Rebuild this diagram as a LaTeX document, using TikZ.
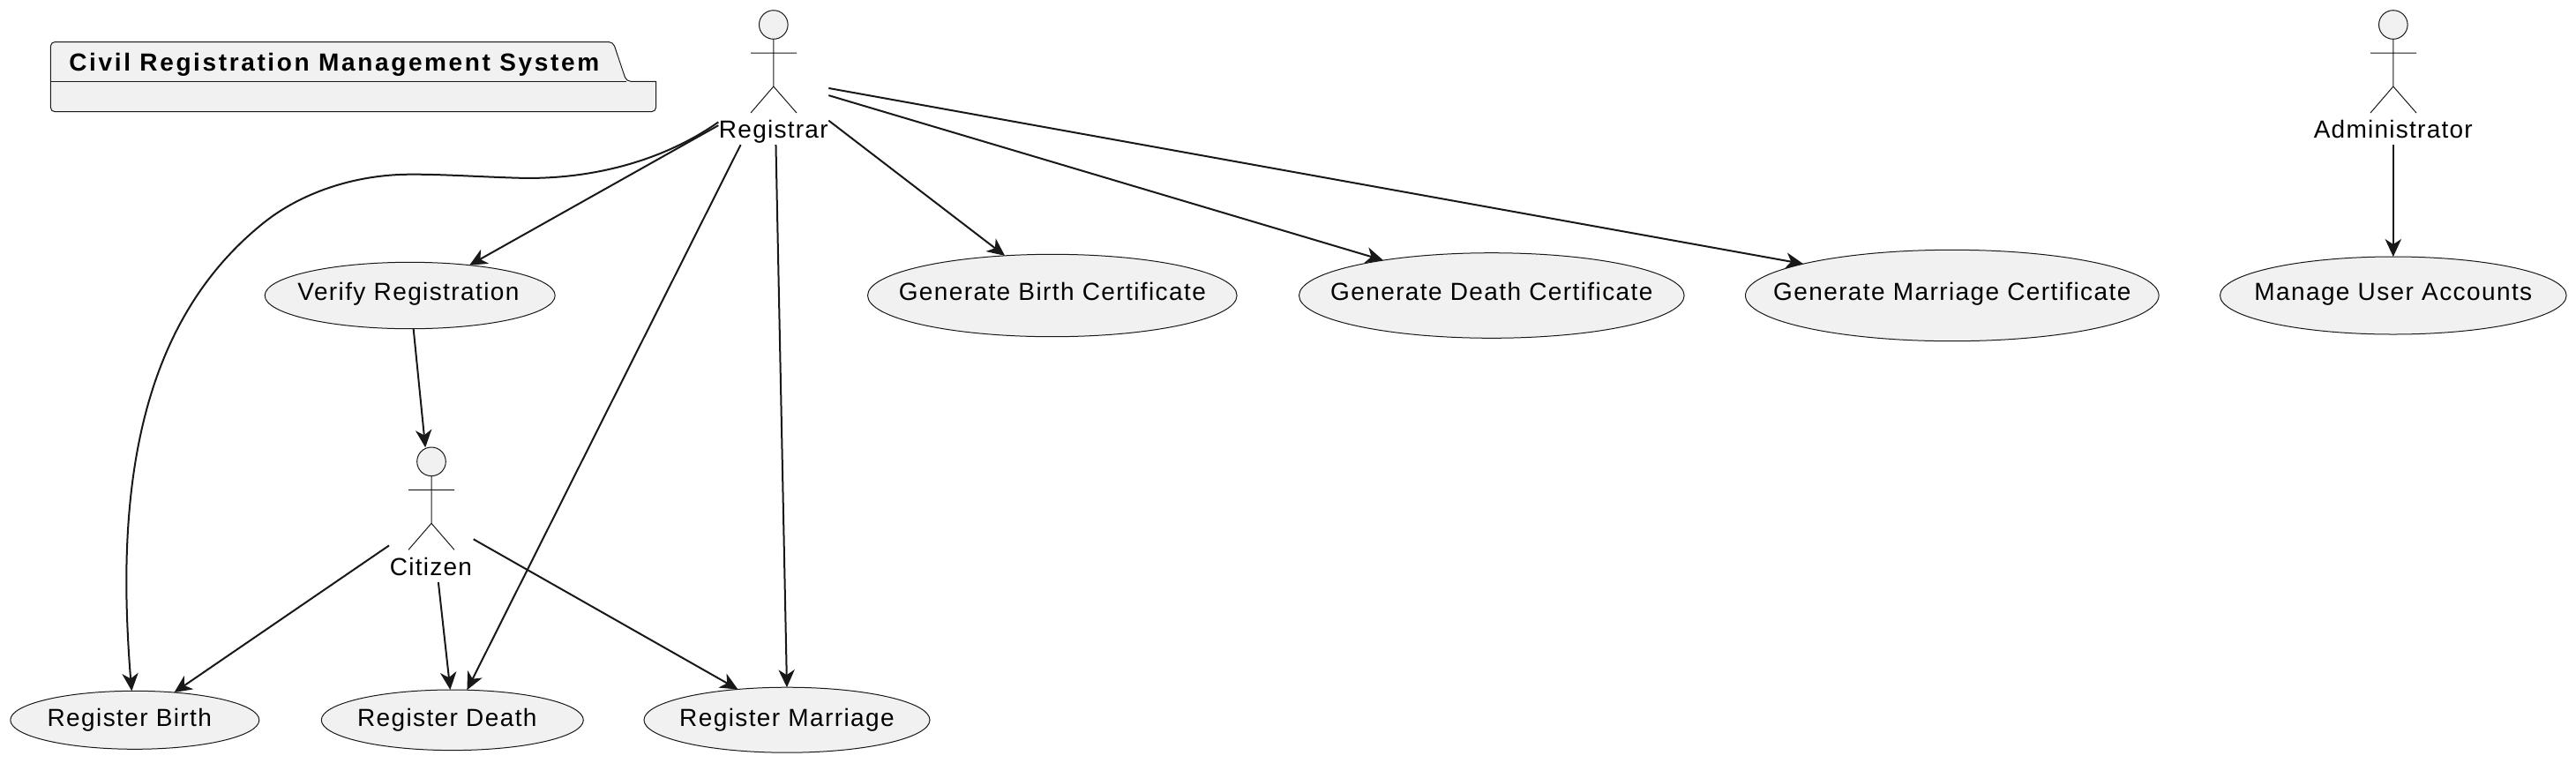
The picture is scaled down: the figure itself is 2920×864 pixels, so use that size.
\documentclass[tikz,border=0pt]{standalone}
\usepackage{fontspec}
\setmainfont[LetterSpace=5,BoldFeatures={LetterSpace=9.4}]{Liberation Sans}
\newfontfamily\actorfont[LetterSpace=4.5]{Liberation Sans}
\usetikzlibrary{arrows.meta,shapes.geometric}

\definecolor{umlink}{HTML}{181818}
\definecolor{umlfill}{HTML}{F1F1F1}

\newcommand{\uctext}[2][0pt]{\makebox[0pt]{\hspace*{#1}#2}}

\tikzset{
    usecase/.style={ellipse, draw=umlink, fill=umlfill, line width=.5pt, inner sep=0pt, outer sep=0pt,
        text=black, font=\fontsize{14}{17}\selectfont, text height=9pt, text depth=3.3pt},
    lowcase/.style={usecase, text height=10.3pt},
    actorbox/.style={rectangle, inner sep=0pt, outer sep=0pt, minimum height=76.3pt},
    actorhead/.style={circle, draw=umlink, fill=umlfill, line width=.5pt, inner sep=0pt, outer sep=0pt, minimum size=16.3pt},
    actorline/.style={draw=umlink, line width=.5pt},
    actorname/.style={anchor=base, inner sep=0pt, font=\actorfont\fontsize{14}{17}\selectfont},
    umlarrow/.style={draw=umlink, line width=1pt, -{Stealth[length=10pt,width=9.2pt,inset=3pt,line width=.6pt]}}
}

\begin{document}
\begin{tikzpicture}[x=.5pt,y=-.5pt]
    \useasboundingbox (0,0) rectangle (2920,864);

    % package
    \draw[draw=umlink, fill=umlfill, line width=.5pt, rounded corners=2.5pt]
        (57.3,110) -- (57.3,47.5) -- (695,47.5) -- (710,92.3) [sharp corners] -- (743.6,92.3)
        [rounded corners=2.5pt] -- (743.6,126.7) -- (57.3,126.7) -- cycle;
    \draw[draw=umlink, line width=.5pt] (57.3,92.3) -- (710,92.3);
    \node[anchor=base west, inner sep=0pt, font=\fontsize{14}{17}\selectfont\bfseries] (pkgtitle) at (78,80) {Civil Registration Management System};

    % actors
    \node[actorhead] (registrarhead) at (876.8,28) {};
    \draw[actorline] (registrarhead.south) -- (876.8,98) (851,60) -- (903,60) (851,128) -- (876.8,98) -- (903,128);
    \node[actorname] (registrarname) at (876.8,156.7) {Registrar};
    \node[actorbox, minimum width=62.5pt] (registrar) at (876.8,87.8) {};

    \node[actorhead] (citizenhead) at (489,523.3) {};
    \draw[actorline] (citizenhead.south) -- (489,593.3) (463,555.3) -- (515,555.3) (463,623.3) -- (489,593.3) -- (515,623.3);
    \node[actorname] (citizenname) at (488.5,652.3) {Citizen};
    \node[actorbox, minimum width=47.85pt] (citizen) at (488.85,583.65) {};

    \node[actorhead] (adminhead) at (2712.8,28) {};
    \draw[actorline] (adminhead.south) -- (2712.8,98) (2687,60) -- (2739,60) (2687,128) -- (2712.8,98) -- (2739,128);
    \node[actorname] (adminname) at (2712.8,156.7) {Administrator};
    \node[actorbox, minimum width=91pt] (admin) at (2712.8,87.8) {};

    % use cases
    \node[usecase, minimum width=164.5pt, minimum height=37.7pt] (verify) at (464.7,335) {\uctext[-1.7pt]{Verify Registration}};
    \node[usecase, minimum width=209.3pt, minimum height=46.7pt] (genbirth) at (1192.8,335) {\uctext{Generate Birth Certificate}};
    \node[usecase, minimum width=218.3pt, minimum height=48.3pt] (gendeath) at (1690.8,335) {\uctext{Generate Death Certificate}};
    \node[usecase, minimum width=234.3pt, minimum height=51.7pt] (genmarriage) at (2212.8,335) {\uctext{Generate Marriage Certificate}};
    \node[usecase, minimum width=196.3pt, minimum height=44pt] (manage) at (2712.8,335) {\uctext{Manage User Accounts}};
    \node[lowcase, minimum width=141pt, minimum height=33pt] (birth) at (152.8,816.3) {\uctext[-6pt]{Register Birth}};
    \node[lowcase, minimum width=148.5pt, minimum height=34.3pt] (death) at (512.8,816.3) {\uctext[-6pt]{Register Death}};
    \node[lowcase, minimum width=162pt, minimum height=37pt] (marriage) at (892,816.2) {\uctext{Register Marriage}};

    % connectors
    \draw[umlarrow] (registrar.-11.31) -- (genmarriage.168.66);
    \draw[umlarrow] (registrar.-18.16) -- (gendeath.162.36);
    \draw[umlarrow] (registrar.-38.38) -- (genbirth.140.97);
    \draw[umlarrow] (registrar.-88.87) -- (marriage.90);
    \draw[umlarrow] (registrar.-116.2) -- (death.64.67);
    \draw[umlarrow] (registrar.-139.6) -- (verify.27.24);
    \draw[umlarrow] (registrar.-141.5) .. controls (745,187) and (660,204) .. (587,201.7)
        .. controls (545,200.5) and (500,197.5) .. (466.7,197.7)
        .. controls (400,197.5) and (340,220) .. (300,251.7)
        .. controls (183,344.7) and (143.3,490) .. (143.3,660)
        .. controls (143.3,700) and (146,745) .. (birth.96.71);
    \draw[umlarrow] (verify.-84.04) -- (citizen.95.35);
    \draw[umlarrow] (citizen.-144.57) -- (birth.35.23);
    \draw[umlarrow] (citizen.-84.13) -- (death.94.76);
    \draw[umlarrow] (citizen.-30.91) -- (marriage.148.3);
    \draw[umlarrow] (admin.south) -- (manage.north);
\end{tikzpicture}
\end{document}
